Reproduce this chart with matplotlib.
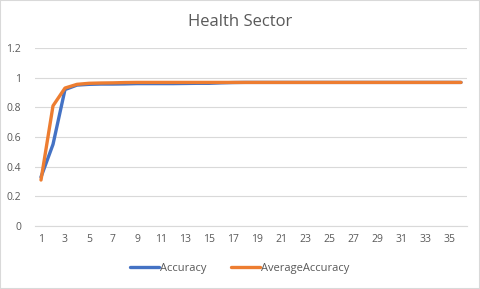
import matplotlib
matplotlib.use("Agg")
import matplotlib.pyplot as plt

plt.rcParams['font.family'] = ['Open Sans', 'DejaVu Sans']

categories = list(range(1, 37))
accuracy = [0.33, 0.55, 0.92, 0.95, 0.955, 0.957, 0.957, 0.958, 0.96, 0.96,
            0.96, 0.96, 0.961, 0.962, 0.962, 0.965, 0.967, 0.968, 0.968, 0.968,
            0.968, 0.968, 0.968, 0.968, 0.968, 0.968, 0.968, 0.968, 0.968, 0.968,
            0.968, 0.968, 0.968, 0.968, 0.968, 0.968]
avg_accuracy = [0.31, 0.81, 0.93, 0.955, 0.962, 0.964, 0.965, 0.967, 0.968, 0.968,
                0.968, 0.968, 0.968, 0.968, 0.968, 0.968, 0.968, 0.968, 0.968, 0.968,
                0.968, 0.968, 0.968, 0.968, 0.968, 0.968, 0.968, 0.968, 0.968, 0.968,
                0.968, 0.968, 0.968, 0.968, 0.968, 0.968]
yticks = [0, 0.2, 0.4, 0.6, 0.8, 1, 1.2]
ytick_labels = ['0', '0.2', '0.4', '0.6', '0.8', '1', '1.2']

fig = plt.figure(figsize=(4.8, 2.89), dpi=100)
fig.patch.set_facecolor('white')
ax = fig.add_axes([35/480, 1 - 226/289, (467-35)/480, (226-48)/289])

ax.plot(categories, accuracy, color='#4472C4', lw=2.4, label='Accuracy', solid_capstyle='round')
ax.plot(categories, avg_accuracy, color='#ED7D31', lw=2.4, label='AverageAccuracy', solid_capstyle='round')

ax.set_xlim(0.5, 36.5)
ax.set_ylim(0, 1.2)
ax.set_yticks(yticks)
ax.set_yticklabels(ytick_labels)
ax.set_xticks(categories[::2])
ax.set_xticklabels([str(c) for c in categories[::2]])
ax.grid(axis='y', color='#D9D9D9', lw=0.8)
ax.set_axisbelow(True)
for s in ['top', 'right', 'left']:
    ax.spines[s].set_visible(False)
ax.spines['bottom'].set_color('#D9D9D9')
ax.tick_params(axis='both', length=0, labelsize=7.5, colors='#595959')
ax.tick_params(axis='y', pad=10)
ax.tick_params(axis='x', pad=6)

fig.text(0.5, 1 - 22/289, 'Health Sector', ha='center', va='center', fontsize=12, color='#595959')

handles, labels = ax.get_legend_handles_labels()
fig.legend(handles, labels, loc='center', bbox_to_anchor=(0.5, 1 - 268/289), ncol=2,
           frameon=False, fontsize=8, labelcolor='#595959', handlelength=2.6,
           handletextpad=0.1, columnspacing=2.2)

fig.add_artist(plt.Rectangle((0, 0), 1, 1, transform=fig.transFigure, fill=False,
                             edgecolor='#D9D9D9', lw=1.5))

fig.savefig('out.png', dpi=100)
